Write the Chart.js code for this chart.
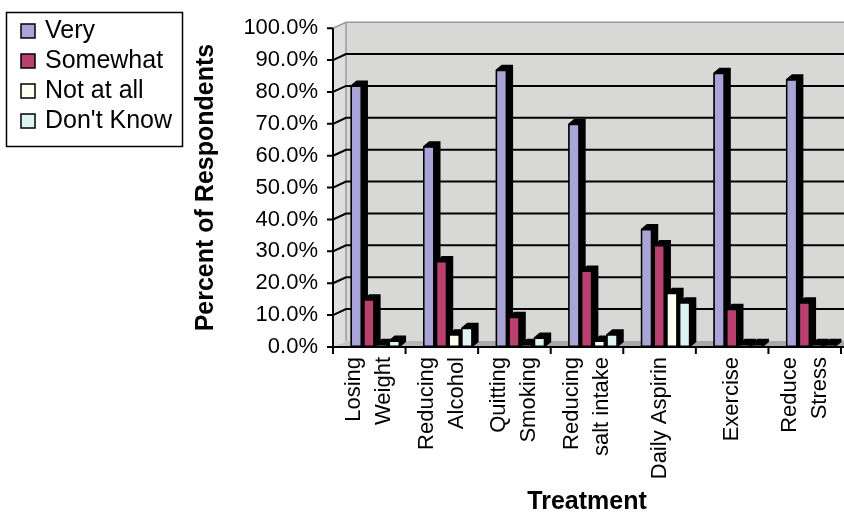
<!DOCTYPE html>
<html>
<head>
<meta charset="utf-8">
<script src="https://cdn.jsdelivr.net/npm/chart.js@4"></script>
<style>
  html, body { margin: 0; padding: 0; background: #ffffff; }
  #wrap { position: relative; width: 844px; height: 513px; }
</style>
</head>
<body>
<div id="wrap"><canvas id="c" width="844" height="513"></canvas></div>
<script>
// ---- data ----
const categories = [["Losing", "Weight"], ["Reducing", "Alcohol"], ["Quitting", "Smoking"], ["Reducing", "salt intake"], "Daily Aspirin", "Exercise", ["Reduce", "Stress"]];
const seriesNames = ["Very", "Somewhat", "Not at all", "Don't Know"];
const very      = [82, 63, 87, 70, 37, 86, 84];
const somewhat  = [15, 27, 9.5, 24, 32, 12, 14];
const notAtAll  = [1, 4, 1, 2, 17, 1, 1];
const dontKnow  = [2, 6, 3, 4, 14, 1, 1];
const yTicks = [0, 10, 20, 30, 40, 50, 60, 70, 80, 90, 100];
const yTitle = "Percent of Respondents";
const xTitle = "Treatment";

const colors = ["#aaa5d8", "#b8416f", "#fffff0", "#dff3f3"];
const FONT = "'Liberation Sans', Arial, sans-serif";

const DX = 13, DY = 6;       // wall depth
const BDX = 6, BDY = 5;      // bar extrusion
const SHIFT = 6;             // perspective shift of bars
const LABEL_LH = 30;         // line spacing of category labels

const wallPlugin = {
  id: 'wall',
  beforeDatasetsDraw(chart) {
    const ctx = chart.ctx;
    const ya = chart.scales.y, xa = chart.scales.x;
    const W = chart.width;
    const x0 = chart.chartArea.left;
    const xb = x0 + DX;
    const yTopF = ya.getPixelForValue(100), yBotF = ya.getPixelForValue(0);
    const yTopB = yTopF - DY, yBotB = yBotF - DY;
    ctx.save();
    // back wall
    ctx.fillStyle = '#d8d8d6';
    ctx.fillRect(xb, yTopB, W - xb, yBotB - yTopB);
    // side wall
    ctx.fillStyle = '#dedede';
    ctx.beginPath();
    ctx.moveTo(x0, yTopF); ctx.lineTo(xb, yTopB); ctx.lineTo(xb, yBotB); ctx.lineTo(x0, yBotF); ctx.closePath();
    ctx.fill();
    // floor
    const g = ctx.createLinearGradient(x0, 0, W, 0);
    g.addColorStop(0, '#c8c8c8'); g.addColorStop(0.3, '#a8a8a8'); g.addColorStop(1, '#a8a8a8');
    ctx.fillStyle = g;
    ctx.beginPath();
    ctx.moveTo(x0, yBotF); ctx.lineTo(xb, yBotB); ctx.lineTo(W, yBotB); ctx.lineTo(W, yBotF); ctx.closePath();
    ctx.fill();
    // wall edges
    ctx.strokeStyle = '#9a9a9a'; ctx.lineWidth = 1.5;
    ctx.beginPath();
    ctx.moveTo(x0, yTopF); ctx.lineTo(xb, yTopB); ctx.lineTo(W, yTopB);
    ctx.moveTo(xb, yTopB); ctx.lineTo(xb, yBotB);
    ctx.stroke();
    // gridlines
    ctx.strokeStyle = '#000'; ctx.lineWidth = 2;
    yTicks.forEach(v => {
      if (v === 0 || v === 100) return;
      const yf = ya.getPixelForValue(v);
      ctx.beginPath();
      ctx.moveTo(x0, yf); ctx.lineTo(xb, yf - DY); ctx.lineTo(W, yf - DY);
      ctx.stroke();
    });
    // front axes
    ctx.lineWidth = 2;
    ctx.beginPath();
    ctx.moveTo(x0, yTopF); ctx.lineTo(x0, yBotF + 1);
    yTicks.forEach(v => {
      const yf = ya.getPixelForValue(v);
      ctx.moveTo(x0 - 6, yf); ctx.lineTo(x0, yf);
    });
    ctx.moveTo(x0, yBotF); ctx.lineTo(W, yBotF);
    const n = categories.length;
    for (let i = 0; i <= n; i++) {
      const xp = xa.left + i * (xa.width / n);
      ctx.moveTo(xp, yBotF); ctx.lineTo(xp, yBotF + 7);
    }
    ctx.stroke();

    // category labels, rotated, centred on each category tick
    ctx.fillStyle = '#000';
    ctx.font = '22px ' + FONT;
    ctx.textAlign = 'right';
    ctx.textBaseline = 'middle';
    chart.data.labels.forEach((lab, i) => {
      const lines = Array.isArray(lab) ? lab : [lab];
      const px = xa.getPixelForTick(i);
      lines.forEach((ln, j) => {
        const cx = px + (j - (lines.length - 1) / 2) * LABEL_LH;
        ctx.save();
        ctx.translate(cx, yBotF + 10);
        ctx.rotate(-Math.PI / 2);
        ctx.fillText(ln, 0, 0);
        ctx.restore();
      });
    });
    ctx.restore();

    // bar extrusions (3D depth), shifted for perspective
    ctx.save();
    ctx.translate(SHIFT, 0);
    ctx.fillStyle = '#000';
    chart.data.datasets.forEach((ds, di) => {
      const meta = chart.getDatasetMeta(di);
      meta.data.forEach(el => {
        const p = el.getProps(['x', 'y', 'base', 'width'], true);
        const l = p.x - p.width / 2, r = p.x + p.width / 2;
        const t = Math.min(p.y, p.base - 1.5), b = p.base;
        ctx.beginPath();
        ctx.moveTo(l, t); ctx.lineTo(l + BDX, t - BDY); ctx.lineTo(r + BDX, t - BDY);
        ctx.lineTo(r + BDX, b - BDY); ctx.lineTo(r, b); ctx.lineTo(l, b); ctx.closePath();
        ctx.fill();
      });
    });
    ctx.restore();
    ctx.save();
    ctx.translate(SHIFT, 0);
  },
  afterDatasetsDraw(chart) {
    chart.ctx.restore();
  },
  afterDraw(chart) {
    // legend box
    const ctx = chart.ctx;
    ctx.save();
    ctx.strokeStyle = '#000'; ctx.lineWidth = 1.5;
    ctx.strokeRect(6.5, 12.5, 176, 134);
    ctx.font = '25px ' + FONT;
    ctx.textBaseline = 'alphabetic';
    ctx.textAlign = 'left';
    chart.data.datasets.forEach((ds, i) => {
      const base = 38 + i * 30;
      ctx.fillStyle = ds.backgroundColor;
      ctx.fillRect(21, base - 14, 14, 14);
      ctx.strokeRect(21, base - 14, 14, 14);
      ctx.fillStyle = '#000';
      ctx.fillText(ds.label, 45, base);
    });
    ctx.restore();
  }
};

const seriesData = [very, somewhat, notAtAll, dontKnow];

new Chart(document.getElementById('c'), {
  type: 'bar',
  data: {
    labels: categories,
    datasets: seriesNames.map((name, i) => ({
      label: name,
      data: seriesData[i],
      backgroundColor: colors[i],
      borderColor: '#000',
      borderWidth: 1.5,
      borderSkipped: false,
      categoryPercentage: 0.70,
      barPercentage: 0.9
    }))
  },
  options: {
    responsive: false,
    animation: false,
    events: [],
    layout: { padding: { left: 0, right: 3, top: 27, bottom: 0 } },
    plugins: { legend: { display: false }, tooltip: { enabled: false } },
    scales: {
      x: {
        offset: true,
        grid: { display: false, drawTicks: false },
        border: { display: false },
        ticks: { display: false },
        title: {
          display: true, text: xTitle, color: '#000',
          font: { family: FONT, size: 25, weight: 'bold', lineHeight: 1 },
          padding: { top: 0, bottom: -2 }
        },
        afterFit(s) { s.height = 166; s.paddingLeft = 0; s.paddingRight = 0; }
      },
      y: {
        min: 0, max: 100,
        grid: { display: false, drawTicks: false },
        border: { display: false },
        afterBuildTicks(s) { s.ticks = yTicks.map(v => ({ value: v })); },
        ticks: {
          padding: 15, color: '#000',
          font: { family: FONT, size: 22 },
          callback: v => v.toFixed(1) + '%'
        },
        title: {
          display: true, text: yTitle, color: '#000',
          font: { family: FONT, size: 25, weight: 'bold', lineHeight: 1 },
          padding: { top: 194, bottom: 0 }
        },
        afterFit(s) { s.width = 333; }
      }
    }
  },
  plugins: [wallPlugin]
});
</script>
</body>
</html>
